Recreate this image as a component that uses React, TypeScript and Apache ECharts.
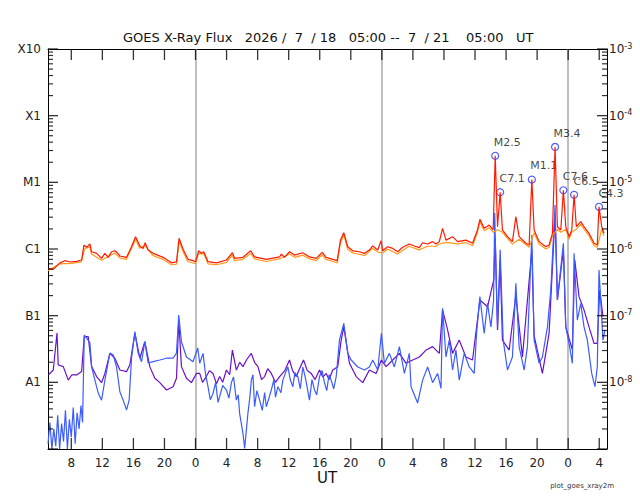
import { useEffect, useRef } from 'react';
import * as echarts from 'echarts';

// time axis: hours counted from 2026-07-18 00:00 UT
const startHour = 5;
const endHour = 77;
const hourTicks = [8, 12, 16, 20, 24, 28, 32, 36, 40, 44, 48, 52, 56, 60, 64, 68, 72, 76];
const midnights = [24, 48, 72];

// flux decades and their GOES class names
const decades = [1e-9, 1e-8, 1e-7, 1e-6, 1e-5, 1e-4, 1e-3];
const classNames: Record<number, string> = { [-3]: 'X10', [-4]: 'X1', [-5]: 'M1', [-6]: 'C1', [-7]: 'B1', [-8]: 'A1' };
const minorMultipliers = [2, 3, 4, 5, 6, 7, 8, 9];

// 1-8 Å, primary satellite [hour, W/m2]
const longPrimary: [number, number][] = [
  [5.04, 5.1e-7], [5.68, 4.96e-7], [6.54, 6.2e-7], [7.19, 6.68e-7], [7.83, 6.38e-7], [8.69, 6.54e-7], [9.33, 6.84e-7],
  [9.63, 1.14e-6], [9.98, 1.06e-6], [10.4, 1.19e-6], [10.6, 9.1e-7], [11.26, 8.6e-7], [11.9, 7.25e-7], [12.33, 8.6e-7],
  [12.75, 7.5e-7], [13.19, 9.1e-7], [13.61, 9.4e-7], [13.91, 8.8e-7], [14.26, 7.85e-7], [15.12, 7.5e-7], [15.76, 1.08e-6],
  [16.28, 1.53e-6], [16.83, 1.11e-6], [17.25, 1.02e-6], [17.51, 1.24e-6], [17.9, 9.65e-7], [18.54, 8.6e-7], [19.83, 7.5e-7],
  [20.9, 6.2e-7], [21.55, 6.4e-7], [21.88, 1.45e-6], [22.4, 9.9e-7], [23.04, 7.0e-7], [23.68, 6.7e-7], [23.99, 6.45e-7],
  [24.41, 9.4e-7], [24.76, 8.6e-7], [25.06, 9.1e-7], [25.61, 6.45e-7], [26.69, 6.2e-7], [27.98, 6.84e-7], [28.75, 8.8e-7],
  [29.04, 7.25e-7], [30.11, 7.5e-7], [31.1, 9.4e-7], [31.61, 7.6e-7], [33.12, 7.0e-7], [34.83, 7.6e-7], [35.05, 8.4e-7],
  [35.47, 7.5e-7], [36.11, 9.1e-7], [36.76, 8.1e-7], [37.82, 8.8e-7], [38.68, 7.6e-7], [39.55, 7.25e-7], [40.32, 8.9e-7],
  [40.83, 7.5e-7], [41.68, 7.0e-7], [42.25, 6.7e-7], [42.67, 1.36e-6], [43.1, 1.76e-6], [43.61, 1.08e-6], [44.25, 9.4e-7],
  [45.11, 9.1e-7], [45.76, 8.6e-7], [46.4, 9.65e-7], [46.82, 1.11e-6], [47.47, 9.65e-7], [47.9, 1.33e-6], [48.11, 9.4e-7],
  [48.75, 1.08e-6], [49.4, 1.02e-6], [50.04, 9.1e-7], [50.68, 1.06e-6], [51.54, 1.19e-6], [52.18, 1.11e-6], [52.83, 1.05e-6],
  [53.25, 1.24e-6], [53.9, 1.19e-6], [54.54, 1.29e-6], [54.97, 1.19e-6], [55.4, 1.29e-6], [55.82, 2.04e-6], [56.26, 1.36e-6],
  [57.11, 1.53e-6], [57.75, 1.29e-6], [58.83, 1.36e-6], [59.68, 1.22e-6], [60.32, 1.93e-6], [60.63, 2.79e-6], [61.18, 2.04e-6],
  [61.83, 2.29e-6], [62.34, 1.93e-6], [62.6, 2.5e-5], [62.9, 2.16e-6], [63.24, 7.1e-6], [63.53, 1.93e-6], [64.18, 1.53e-6],
  [64.82, 1.29e-6], [65.26, 3.05e-6], [65.68, 1.53e-6], [66.55, 1.22e-6], [66.97, 1.15e-6], [67.32, 1.1e-5], [67.61, 1.93e-6],
  [68.26, 1.29e-6], [69.12, 1.08e-6], [69.54, 1.15e-6], [69.97, 1.72e-6], [70.31, 3.4e-5], [70.61, 2.16e-6], [71.05, 1.93e-6],
  [71.38, 7.6e-6], [71.69, 2.16e-6], [72.11, 1.53e-6], [72.46, 1.93e-6], [72.76, 6.5e-6], [73.05, 2.16e-6], [73.62, 2.57e-6],
  [74.04, 2.16e-6], [74.68, 1.72e-6], [75.33, 1.22e-6], [75.75, 1.15e-6], [75.97, 4.3e-6], [76.32, 2.16e-6], [76.61, 1.72e-6]
];

// 1-8 Å, secondary satellite
const longSecondary: [number, number][] = [
  [5.0, 4.7e-7], [6.5, 6.0e-7], [8.0, 6.1e-7], [9.3, 6.4e-7], [9.7, 1.0e-6], [10.4, 1.08e-6], [10.6, 8.4e-7], [11.9, 6.8e-7],
  [13.6, 8.7e-7], [14.3, 7.3e-7], [15.1, 7.0e-7], [16.3, 1.4e-6], [16.8, 1.03e-6], [17.5, 1.12e-6], [18.5, 8.0e-7],
  [19.8, 7.0e-7], [20.9, 5.8e-7], [21.55, 5.9e-7], [21.9, 1.33e-6], [22.4, 9.1e-7], [23.0, 6.5e-7], [24.0, 6.0e-7],
  [24.4, 8.6e-7], [25.1, 8.4e-7], [25.6, 6.0e-7], [26.7, 5.8e-7], [28.0, 6.3e-7], [28.75, 8.1e-7], [29.0, 6.7e-7],
  [30.1, 7.0e-7], [31.1, 8.6e-7], [31.6, 7.1e-7], [33.1, 6.5e-7], [34.8, 7.1e-7], [36.1, 8.4e-7], [36.8, 7.5e-7],
  [37.8, 8.1e-7], [38.7, 7.1e-7], [39.55, 6.7e-7], [40.3, 8.2e-7], [40.8, 7.0e-7], [41.7, 6.5e-7], [42.25, 6.2e-7],
  [42.67, 1.25e-6], [43.1, 1.62e-6], [43.6, 1.0e-6], [44.25, 8.7e-7], [45.8, 8.0e-7], [46.8, 1.02e-6], [47.5, 9.0e-7],
  [48.1, 8.7e-7], [48.75, 1.0e-6], [50.0, 8.4e-7], [51.5, 1.1e-6], [52.8, 9.7e-7], [53.9, 1.1e-6], [55.0, 1.1e-6],
  [55.4, 1.19e-6], [56.3, 1.26e-6], [57.75, 1.19e-6], [58.8, 1.25e-6], [59.7, 1.12e-6], [60.3, 1.78e-6], [60.63, 2.55e-6],
  [61.2, 1.88e-6], [61.83, 2.1e-6], [62.34, 1.78e-6], [62.9, 1.95e-6], [63.53, 1.78e-6], [64.8, 1.19e-6], [65.68, 1.4e-6],
  [66.97, 1.06e-6], [67.61, 1.75e-6], [68.26, 1.19e-6], [69.12, 1.0e-6], [69.54, 1.06e-6], [69.97, 1.58e-6], [70.61, 1.98e-6],
  [71.05, 1.78e-6], [71.69, 1.98e-6], [72.11, 1.4e-6], [72.46, 1.78e-6], [73.05, 1.98e-6], [73.62, 2.36e-6], [74.04, 1.98e-6],
  [74.68, 1.58e-6], [75.33, 1.12e-6], [75.75, 1.06e-6], [76.32, 1.98e-6], [76.61, 1.58e-6]
];

// 0.5-4 Å, primary satellite
const shortPrimary: [number, number][] = [
  [5.0, 1.2e-9], [5.25, 2.5e-9], [5.5, 1.0e-9], [5.75, 2.0e-9], [6.0, 1.1e-9], [6.25, 3.2e-9], [6.5, 1.0e-9], [6.75, 2.4e-9],
  [7.0, 1.3e-9], [7.25, 3.8e-9], [7.5, 1.0e-9], [7.75, 2.8e-9], [8.0, 1.5e-9], [8.25, 4.2e-9], [8.5, 1.2e-9], [8.75, 3.5e-9],
  [9.0, 2.0e-9], [9.25, 4.5e-9], [9.45, 2.5e-9], [9.67, 5.13e-8], [9.98, 4.6e-8], [10.4, 3.9e-8], [10.62, 1.7e-8],
  [11.04, 1.08e-8], [11.47, 6.9e-9], [11.9, 5.4e-9], [12.33, 1.08e-8], [12.97, 2.75e-8], [13.4, 2.57e-8], [13.83, 1.7e-8],
  [14.26, 7.2e-9], [14.68, 5.4e-9], [15.12, 3.85e-9], [15.45, 5.4e-9], [15.76, 2.3e-8], [16.19, 5.75e-8], [16.61, 2.75e-8],
  [17.05, 2.04e-8], [17.47, 4.07e-8], [17.9, 1.95e-8], [18.54, 2.04e-8], [19.4, 2.16e-8], [20.26, 2.3e-8], [21.11, 2.3e-8],
  [21.55, 2.75e-8], [21.84, 1.02e-7], [22.19, 4.07e-8], [22.83, 2.4e-8], [23.68, 2.04e-8], [24.29, 3.27e-8], [24.54, 1.93e-8],
  [24.97, 2.72e-8], [25.3, 1.3e-8], [25.61, 8.6e-9], [25.9, 5.5e-9], [26.25, 6.8e-9], [26.6, 1.0e-8], [26.9, 5.0e-9],
  [27.11, 6.1e-9], [27.5, 9.0e-9], [27.98, 7.67e-9], [28.3, 5.8e-9], [28.62, 9.9e-9], [28.9, 1.2e-8], [29.26, 5.4e-9],
  [29.5, 6.5e-9], [29.68, 3.43e-9], [30.11, 1.72e-9], [30.33, 1.02e-9], [30.75, 3.43e-9], [31.0, 6.0e-9], [31.19, 1.08e-8],
  [31.4, 1.3e-8], [31.61, 4.3e-9], [31.9, 7.5e-9], [32.26, 5.4e-9], [32.6, 3.8e-9], [32.9, 7.0e-9], [33.12, 4.3e-9],
  [33.4, 5.5e-9], [33.76, 7.67e-9], [34.1, 1.1e-8], [34.3, 6.0e-9], [34.61, 8.6e-9], [35.0, 7.0e-9], [35.25, 1.08e-8],
  [35.6, 1.4e-8], [35.9, 1.7e-8], [36.2, 1.1e-8], [36.54, 8.6e-9], [36.8, 1.4e-8], [37.18, 1.22e-8], [37.5, 8.0e-9],
  [37.82, 1.7e-8], [38.2, 1.1e-8], [38.68, 5.4e-9], [39.0, 1.1e-8], [39.33, 7.67e-9], [39.6, 6.5e-9], [39.97, 1.22e-8],
  [40.3, 1.5e-8], [40.61, 9.9e-9], [40.9, 7.5e-9], [41.2, 1.3e-8], [41.47, 1.08e-8], [41.8, 8.0e-9], [42.12, 1.22e-8],
  [42.54, 4.3e-8], [43.1, 7.67e-8], [43.61, 2.72e-8], [44.05, 2.16e-8], [44.9, 1.7e-8], [45.76, 1.53e-8], [46.4, 1.7e-8],
  [46.82, 2.16e-8], [47.47, 1.53e-8], [47.94, 5.43e-8], [48.33, 1.93e-8], [48.97, 2.72e-8], [49.61, 1.7e-8], [50.26, 3.43e-8],
  [50.9, 1.36e-8], [51.54, 2.72e-8], [51.76, 8.6e-9], [52.61, 4.9e-9], [53.25, 1.08e-8], [53.9, 1.7e-8], [54.54, 9.9e-9],
  [55.18, 1.36e-8], [55.62, 8.1e-9], [55.82, 1.29e-7], [56.26, 2.4e-8], [56.68, 4.3e-8], [57.11, 1.53e-8], [57.54, 3.05e-8],
  [57.97, 1.08e-8], [58.61, 2.72e-8], [59.26, 1.7e-8], [59.9, 1.36e-8], [60.2, 5.43e-8], [60.63, 1.93e-7], [61.18, 5.43e-8],
  [61.61, 1.53e-7], [62.05, 6.8e-8], [62.39, 1.72e-7], [62.54, 3.47e-6], [62.73, 3.43e-7], [62.9, 6.8e-8], [63.24, 9.7e-7],
  [63.63, 4.3e-8], [64.18, 1.53e-8], [64.82, 2.4e-8], [65.26, 3.05e-7], [65.68, 3.43e-8], [66.33, 1.53e-8], [66.75, 3.43e-8],
  [67.32, 1.62e-6], [67.61, 4.3e-8], [68.26, 1.93e-8], [68.68, 2.4e-8], [69.33, 6.8e-8], [69.76, 2.43e-7], [70.31, 4.57e-6],
  [70.61, 1.72e-7], [71.38, 1.22e-6], [71.69, 6.8e-8], [72.11, 3.85e-8], [72.54, 1.93e-8], [72.76, 8.6e-7], [73.18, 8.6e-8],
  [73.62, 1.53e-7], [74.04, 6.8e-8], [74.47, 4.3e-8], [75.03, 1.36e-8], [75.45, 8.6e-9], [75.75, 1.7e-8], [75.97, 4.84e-7],
  [76.48, 4.3e-8], [76.74, 6.1e-8]
];

// 0.5-4 Å, secondary satellite
const shortSecondary: [number, number][] = [
  [5.04, 1.29e-8], [5.68, 1.53e-8], [6.16, 5.5e-8], [6.32, 1.82e-8], [6.97, 1.72e-8], [7.61, 1.08e-8], [8.05, 1.29e-8],
  [8.69, 1.29e-8], [9.33, 1.45e-8], [9.67, 4.84e-8], [10.18, 4.84e-8], [10.62, 1.72e-8], [11.26, 1.22e-8], [11.9, 9.9e-9],
  [12.33, 1.36e-8], [12.97, 2.72e-8], [13.61, 2.3e-8], [14.26, 1.53e-8], [15.12, 1.45e-8], [15.54, 1.82e-8], [16.19, 5.43e-8],
  [16.83, 2.3e-8], [17.47, 4.07e-8], [18.11, 1.72e-8], [18.76, 1.15e-8], [19.4, 9.9e-9], [20.26, 7.67e-9], [21.11, 8.6e-9],
  [21.55, 1.15e-8], [21.84, 8.6e-8], [22.19, 1.72e-8], [22.83, 1.15e-8], [23.47, 9.9e-9], [24.12, 1.36e-8], [24.54, 1.36e-8],
  [24.9, 1.0e-8], [25.4, 1.22e-8], [25.8, 1.5e-8], [26.25, 1.36e-8], [26.7, 9.5e-9], [27.11, 1.22e-8], [27.5, 1.0e-8],
  [27.98, 1.53e-8], [28.4, 1.3e-8], [28.75, 3.05e-8], [29.26, 1.53e-8], [29.7, 2.0e-8], [30.11, 1.72e-8], [30.6, 2.2e-8],
  [31.19, 2.72e-8], [31.6, 2.0e-8], [32.04, 1.72e-8], [32.5, 1.1e-8], [32.9, 1.22e-8], [33.3, 1.6e-8], [33.76, 1.36e-8],
  [34.3, 1.0e-8], [34.83, 1.22e-8], [35.5, 1.5e-8], [36.11, 2.16e-8], [36.5, 1.5e-8], [36.98, 1.22e-8], [37.4, 1.6e-8],
  [37.91, 2.16e-8], [38.4, 1.5e-8], [38.9, 1.36e-8], [39.4, 1.1e-8], [39.97, 1.53e-8], [40.4, 1.2e-8], [40.83, 1.36e-8],
  [41.2, 1.1e-8], [41.68, 1.53e-8], [42.32, 1.72e-8], [42.76, 4.3e-8], [43.1, 6.8e-8], [43.83, 1.93e-8], [44.69, 1.22e-8],
  [45.54, 9.9e-9], [46.4, 1.53e-8], [47.26, 1.36e-8], [47.94, 2.16e-8], [48.55, 1.72e-8], [49.4, 2.16e-8], [50.26, 2.72e-8],
  [51.12, 1.93e-8], [51.97, 2.16e-8], [52.83, 2.4e-8], [53.69, 3.05e-8], [54.54, 3.43e-8], [55.4, 2.72e-8], [55.82, 1.22e-7],
  [56.47, 6.1e-8], [57.11, 2.72e-8], [57.97, 4.3e-8], [58.83, 2.4e-8], [59.68, 2.16e-8], [60.63, 1.72e-7], [61.61, 1.36e-7],
  [62.41, 3.43e-7], [62.6, 1.5e-6], [62.9, 6.1e-8], [63.24, 6.8e-7], [63.53, 4.3e-8], [64.4, 3.05e-8], [65.26, 2.0e-7],
  [66.11, 2.4e-8], [67.32, 9.7e-7], [67.61, 5.0e-8], [68.68, 1.36e-8], [69.54, 5.43e-8], [70.31, 3.2e-6], [70.61, 1.72e-7],
  [71.38, 9.7e-7], [71.69, 6.8e-8], [72.54, 3.05e-8], [72.85, 6.8e-7], [73.4, 1.93e-7], [74.04, 1.22e-7], [74.68, 6.8e-8],
  [75.33, 3.85e-8], [75.75, 3.85e-8], [76.06, 2.43e-7], [76.48, 9.7e-8]
];

// flare peaks marked on the plot
const flareHours = [62.6, 63.24, 67.32, 70.31, 71.38, 72.76, 75.97];
const flareFlux = [2.5e-5, 7.1e-6, 1.1e-5, 3.4e-5, 7.6e-6, 6.5e-6, 4.3e-6];
const flareClass = ['M2.5', 'C7.1', 'M1.1', 'M3.4', 'C7.6', 'C6.5', 'C4.3'];

const FONT = 'DejaVu Sans';

const exponentOf = (v: number) => Math.round(Math.log10(v));

// log minor tick values 2..9 x 10^n
const minorTicks = decades.slice(0, -1).flatMap(d => minorMultipliers.map(k => d * k));

// frame ticks drawn as thin rect symbols placed by the axes' scales
const frameTicks = (name: string, data: number[][], size: number[], offset: number[]) => ({
  name,
  type: 'scatter' as const,
  data,
  symbol: 'rect',
  symbolSize: size,
  symbolOffset: offset,
  itemStyle: { color: '#000' },
  clip: false,
  silent: true,
  z: 10
});

const GoesChart = () => {
  const chartRef = useRef<HTMLDivElement>(null);

  useEffect(() => {
    if (!chartRef.current) return;
    const chart = echarts.init(chartRef.current, undefined, { renderer: 'svg' });

    const xBase = {
      type: 'value' as const,
      min: startHour,
      max: endHour,
      splitLine: { show: false },
      axisLine: { show: true, lineStyle: { color: '#000', width: 1 } },
      axisTick: { show: false }
    };

    const yLog = {
      type: 'log' as const,
      logBase: 10,
      min: 1e-9,
      max: 1e-3,
      splitLine: { show: false },
      axisLine: { show: true, lineStyle: { color: '#000' } },
      axisTick: { show: false }
    };

    const hLines = [1e-4, 1e-5, 1e-7, 1e-8].map(v => ({
      yAxis: v,
      lineStyle: { color: '#4aa6ee', width: 1, type: 'solid' as const }
    }));

    const option: echarts.EChartsOption = {
      animation: false,
      grid: { left: 48, right: 33, top: 49, bottom: 51, outerBoundsMode: 'none' } as any,
      xAxis: [
        {
          ...xBase,
          position: 'bottom',
          axisLabel: {
            customValues: hourTicks,
            formatter: (v: number) => String(v % 24),
            margin: 8,
            fontSize: 12,
            color: '#222',
            fontFamily: FONT
          }
        } as any,
        { ...xBase, position: 'top', axisLabel: { show: false } } as any
      ],
      yAxis: [
        {
          ...yLog,
          position: 'left',
          axisLabel: {
            formatter: (v: number) => classNames[exponentOf(v)] ?? '',
            margin: 7,
            fontSize: 12,
            color: '#222',
            fontFamily: FONT
          }
        } as any,
        {
          ...yLog,
          position: 'right',
          axisLabel: {
            margin: 2,
            formatter: (v: number) => {
              const e = exponentOf(v);
              return e < -8 ? '' : `{b|10}{s|${e}}`;
            },
            rich: {
              b: { fontSize: 12, color: '#222', lineHeight: 14, verticalAlign: 'middle', fontFamily: FONT },
              s: { fontSize: 8, color: '#222', lineHeight: 14, verticalAlign: 'top', fontFamily: FONT }
            }
          }
        } as any
      ],
      series: [
        frameTicks('bottom ticks', hourTicks.map(h => [h, 1e-9]), [1.3, 11], [0, -5.5]),
        frameTicks('top ticks', hourTicks.map(h => [h, 1e-3]), [1.3, 11], [0, 5.5]),
        frameTicks('left decade ticks', decades.map(v => [startHour, v]), [10, 1.3], [5, 0]),
        frameTicks('right decade ticks', decades.map(v => [endHour, v]), [10, 1.3], [-5, 0]),
        frameTicks('left minor ticks', minorTicks.map(v => [startHour, v]), [5, 1.2], [2.5, 0]),
        frameTicks('right minor ticks', minorTicks.map(v => [endHour, v]), [5, 1.2], [-2.5, 0]),
        {
          name: 'short secondary',
          type: 'line',
          data: shortSecondary,
          showSymbol: false,
          lineStyle: { color: '#6a0fcc', width: 1.2 },
          markLine: {
            silent: true,
            symbol: 'none',
            z: 1,
            label: { show: false },
            data: [
              ...hLines,
              { yAxis: 1e-6, lineStyle: { color: '#a3d6f7', width: 3, type: 'solid' } },
              ...midnights.map(h => ({ xAxis: h, lineStyle: { color: '#aaaaaa', width: 1.5, type: 'solid' as const } }))
            ]
          }
        },
        {
          name: 'short primary',
          type: 'line',
          data: shortPrimary,
          showSymbol: false,
          lineStyle: { color: '#3b5cff', width: 1.2 }
        },
        {
          name: 'long secondary',
          type: 'line',
          data: longSecondary,
          showSymbol: false,
          lineStyle: { color: '#ff9a1a', width: 1.2 }
        },
        {
          name: 'long primary',
          type: 'line',
          data: longPrimary,
          showSymbol: false,
          lineStyle: { color: '#ff1a00', width: 1.2 }
        },
        {
          name: 'flares',
          type: 'scatter',
          data: flareHours.map((h, i) => [h, flareFlux[i], flareClass[i]]),
          symbol: 'circle',
          symbolSize: 7,
          itemStyle: { color: 'rgba(0,0,0,0)', borderColor: '#2233ff', borderWidth: 1.2 },
          label: {
            show: true,
            position: 'top',
            distance: 4,
            offset: [12, 0],
            formatter: (p: any) => p.data[2],
            fontSize: 11,
            color: '#111',
            fontFamily: FONT
          }
        }
      ] as any,
      graphic: [
        {
          type: 'text',
          left: 123,
          top: 31,
          style: {
            text: 'GOES X-Ray Flux   2026 /  7  / 18   05:00 --  7  / 21    05:00   UT',
            fontSize: 13,
            fill: '#111',
            fontFamily: FONT
          }
        },
        {
          type: 'text',
          left: 317,
          top: 470,
          style: { text: 'UT', fontSize: 15, fill: '#111', fontFamily: FONT }
        },
        {
          type: 'text',
          right: 26,
          top: 482,
          style: { text: 'plot_goes_xray2m', fontSize: 7, fill: '#333', fontFamily: FONT }
        }
      ]
    };

    chart.setOption(option);
    return () => chart.dispose();
  }, []);

  return <div ref={chartRef} style={{ width: 640, height: 500 }} />;
};

export default function App() {
  return (
    <div style={{ width: 640, height: 500, margin: -8 }}>
      <GoesChart />
    </div>
  );
}
